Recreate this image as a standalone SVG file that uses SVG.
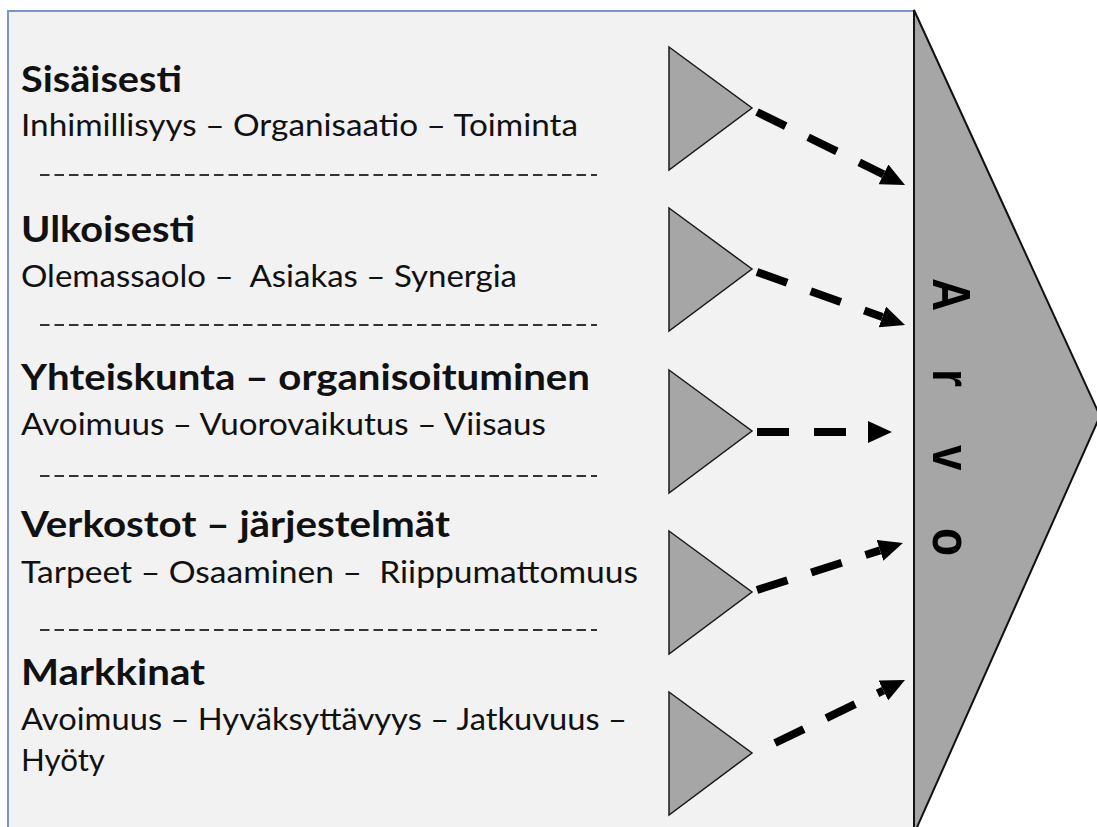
<svg xmlns="http://www.w3.org/2000/svg" width="1097" height="827" viewBox="0 0 1097 827">
<style>
.title{font-family:Lato,"Liberation Sans",sans-serif;font-weight:bold;font-size:37px;fill:#111}
.sub{font-family:Lato,"Liberation Sans",sans-serif;font-size:30px;fill:#111;white-space:pre}
.sep{stroke:#333;stroke-width:2;stroke-dasharray:9.5 5;fill:none}
.tri{fill:#a6a6a6;stroke:#1a1a1a;stroke-width:1.5;stroke-linejoin:miter}
.arr{stroke:#000;stroke-width:8;stroke-dasharray:32 25;fill:none;marker-end:url(#head)}
.arvo{font-family:"Liberation Sans",Arial,sans-serif;font-weight:bold;font-size:46px;fill:#000}
</style>
<defs>
<marker id="head" markerUnits="userSpaceOnUse" markerWidth="24" markerHeight="22" viewBox="0 0 24 22" refX="0" refY="11" orient="auto">
<path d="M0,0 L24,11 L0,22 z" fill="#000"/>
</marker>
</defs>
<rect width="1097" height="827" fill="#ffffff"/>
<g id="panel">
<rect x="8" y="11" width="906" height="830" fill="#f2f2f2" stroke="#7a98c6" stroke-width="2"/>
</g>
<g id="arvo">
<polygon points="914,10 1100,416 914,834" fill="#a6a6a6" stroke="#111" stroke-width="2"/>
<g transform="translate(933,0) rotate(90) scale(1,1.15)">
<text class="arvo" x="278 311 369 388 445 471 528" y="0" style="white-space:pre">A r v o</text>
</g>
</g>
<g id="row1">
<text class="title" x="21" y="92" textLength="161" lengthAdjust="spacingAndGlyphs">Sisäisesti</text>
<text class="sub" x="21" y="136" textLength="557" lengthAdjust="spacingAndGlyphs">Inhimillisyys – Organisaatio – Toiminta</text>
<line class="sep" x1="40" y1="175" x2="597" y2="175"/>
<polygon class="tri" points="669,47 752,108 669,170"/>
</g>
<g id="row2">
<text class="title" x="21" y="242" textLength="174" lengthAdjust="spacingAndGlyphs">Ulkoisesti</text>
<text class="sub" x="21" y="287" textLength="496" lengthAdjust="spacingAndGlyphs">Olemassaolo –  Asiakas – Synergia</text>
<line class="sep" x1="40" y1="325" x2="597" y2="325"/>
<polygon class="tri" points="669,208 752,269 669,331"/>
</g>
<g id="row3">
<text class="title" x="21" y="390" textLength="569" lengthAdjust="spacingAndGlyphs">Yhteiskunta – organisoituminen</text>
<text class="sub" x="21" y="435" textLength="525" lengthAdjust="spacingAndGlyphs">Avoimuus – Vuorovaikutus – Viisaus</text>
<line class="sep" x1="40" y1="476" x2="597" y2="476"/>
<polygon class="tri" points="669,370 752,431 669,493"/>
</g>
<g id="row4">
<text class="title" x="21" y="537" textLength="429" lengthAdjust="spacingAndGlyphs">Verkostot – järjestelmät</text>
<text class="sub" x="21" y="583" textLength="617" lengthAdjust="spacingAndGlyphs">Tarpeet – Osaaminen –  Riippumattomuus</text>
<line class="sep" x1="40" y1="630" x2="597" y2="630"/>
<polygon class="tri" points="669,531 752,592 669,654"/>
</g>
<g id="row5">
<text class="title" x="21" y="685" textLength="184" lengthAdjust="spacingAndGlyphs">Markkinat</text>
<text class="sub" x="21" y="730" textLength="606" lengthAdjust="spacingAndGlyphs">Avoimuus – Hyväksyttävyys – Jatkuvuus –</text>
<text class="sub" x="21" y="771" textLength="84" lengthAdjust="spacingAndGlyphs">Hyöty</text>
<polygon class="tri" points="669,692 752,753 669,815"/>
</g>
<g id="connectors">
<line class="arr" x1="757" y1="112" x2="883.5" y2="174.4"/>
<line class="arr" x1="757" y1="272" x2="882.4" y2="317"/>
<line class="arr" x1="757" y1="432" x2="868" y2="432"/>
<line class="arr" x1="757" y1="590" x2="880" y2="550.4"/>
<line class="arr" x1="775" y1="743" x2="883.4" y2="690.5"/>
</g>
</svg>
